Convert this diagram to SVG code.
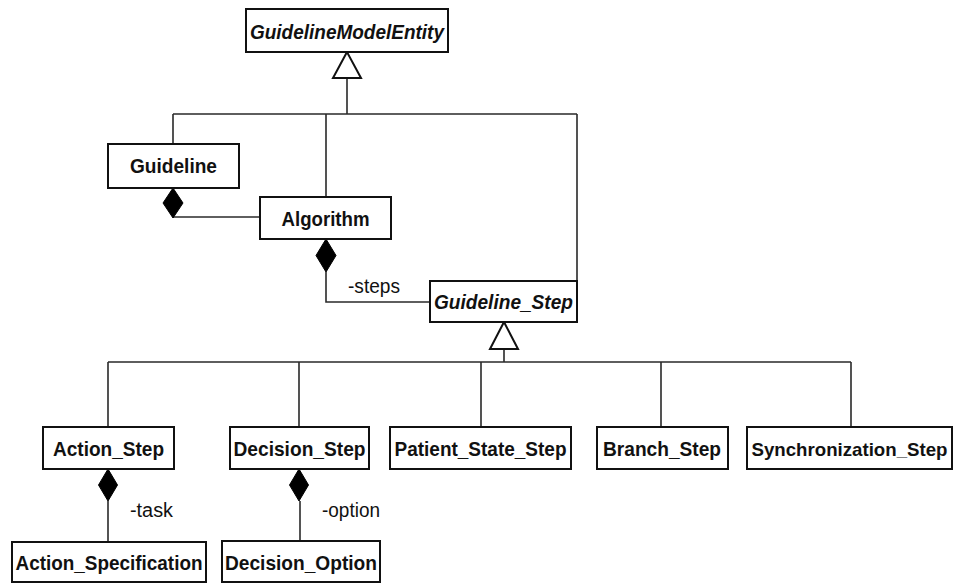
<svg xmlns="http://www.w3.org/2000/svg" width="956" height="583" viewBox="0 0 956 583">
  <style>
    .box { fill: #ffffff; stroke: #111111; stroke-width: 2; }
    .name { font-family: "Liberation Sans", Arial, sans-serif; font-size: 21px; font-weight: bold; fill: #111111; text-anchor: middle; }
    .abstract { font-style: italic; }
    .long { font-size: 19px; }
    .edge { fill: none; stroke: #2a2a2a; stroke-width: 1.6; }
    .gen { fill: #ffffff; stroke: #111111; stroke-width: 2; stroke-linejoin: miter; }
    .comp { fill: #000000; stroke: #000000; stroke-width: 1; }
    .role { font-family: "Liberation Sans", Arial, sans-serif; font-size: 20px; fill: #111111; }
  </style>
  <rect width="956" height="583" fill="#ffffff"/>

  <g id="connectors">
    <!-- generalization to GuidelineModelEntity -->
    <path class="edge" d="M347,78 V114 M173,114 H577 M173,114 V144 M326,114 V197 M577,114 V281"/>
    <polygon class="gen" points="347,52 333,78 361,78"/>
    <!-- Guideline owns Algorithm -->
    <path class="edge" d="M173,217 H260"/>
    <polygon class="comp" points="173,188 163,203 173,218 183,203"/>
    <!-- Algorithm owns steps -->
    <path class="edge" d="M326,272 V302 H430"/>
    <polygon class="comp" points="326,239 316,255.5 326,272 336,255.5"/>
    <text class="role" x="348" y="293" textLength="52" lengthAdjust="spacingAndGlyphs">-steps</text>
    <!-- generalization to Guideline_Step -->
    <path class="edge" d="M504,349 V362 M108,362 H851 M108,362 V427 M299,362 V427 M481,362 V427 M661,362 V427 M851,362 V427"/>
    <polygon class="gen" points="504,322 490,349 518,349"/>
    <!-- Action_Step owns task -->
    <path class="edge" d="M108,501 V542"/>
    <polygon class="comp" points="108,469 98.5,485 108,501 117.5,485"/>
    <text class="role" x="130" y="517" textLength="43" lengthAdjust="spacingAndGlyphs">-task</text>
    <!-- Decision_Step owns option -->
    <path class="edge" d="M300,501 V541"/>
    <polygon class="comp" points="299,469 289.5,485 299,501 308.5,485"/>
    <text class="role" x="322" y="517" textLength="58" lengthAdjust="spacingAndGlyphs">-option</text>
  </g>

  <g id="GuidelineModelEntity">
    <rect class="box" x="246" y="9" width="202" height="43"/>
    <text class="name abstract" x="347" y="38.5" textLength="194" lengthAdjust="spacingAndGlyphs">GuidelineModelEntity</text>
  </g>
  <g id="Guideline">
    <rect class="box" x="108" y="144" width="131" height="44"/>
    <text class="name" x="173.5" y="173" textLength="87" lengthAdjust="spacingAndGlyphs">Guideline</text>
  </g>
  <g id="Algorithm">
    <rect class="box" x="260" y="197" width="131" height="42"/>
    <text class="name" x="325.5" y="225.5" textLength="88" lengthAdjust="spacingAndGlyphs">Algorithm</text>
  </g>
  <g id="Guideline_Step">
    <rect class="box" x="430" y="281" width="147" height="41"/>
    <text class="name abstract" x="503.5" y="309" textLength="139" lengthAdjust="spacingAndGlyphs">Guideline_Step</text>
  </g>
  <g id="Action_Step">
    <rect class="box" x="43" y="427" width="131" height="42"/>
    <text class="name" x="108.5" y="456" textLength="111" lengthAdjust="spacingAndGlyphs">Action_Step</text>
  </g>
  <g id="Decision_Step">
    <rect class="box" x="230" y="427" width="139" height="42"/>
    <text class="name" x="299.5" y="456" textLength="132" lengthAdjust="spacingAndGlyphs">Decision_Step</text>
  </g>
  <g id="Patient_State_Step">
    <rect class="box" x="390" y="427" width="181" height="42"/>
    <text class="name" x="480.5" y="456" textLength="172" lengthAdjust="spacingAndGlyphs">Patient_State_Step</text>
  </g>
  <g id="Branch_Step">
    <rect class="box" x="597" y="427" width="131" height="42"/>
    <text class="name" x="662" y="456" textLength="118" lengthAdjust="spacingAndGlyphs">Branch_Step</text>
  </g>
  <g id="Synchronization_Step">
    <rect class="box" x="747" y="427" width="205" height="42"/>
    <text class="name long" x="849.5" y="456" textLength="196" lengthAdjust="spacingAndGlyphs">Synchronization_Step</text>
  </g>
  <g id="Action_Specification">
    <rect class="box" x="12" y="542" width="194" height="40"/>
    <text class="name" x="109" y="569.5" textLength="187" lengthAdjust="spacingAndGlyphs">Action_Specification</text>
  </g>
  <g id="Decision_Option">
    <rect class="box" x="222" y="541" width="158" height="41"/>
    <text class="name" x="301" y="569.5" textLength="152" lengthAdjust="spacingAndGlyphs">Decision_Option</text>
  </g>
</svg>
